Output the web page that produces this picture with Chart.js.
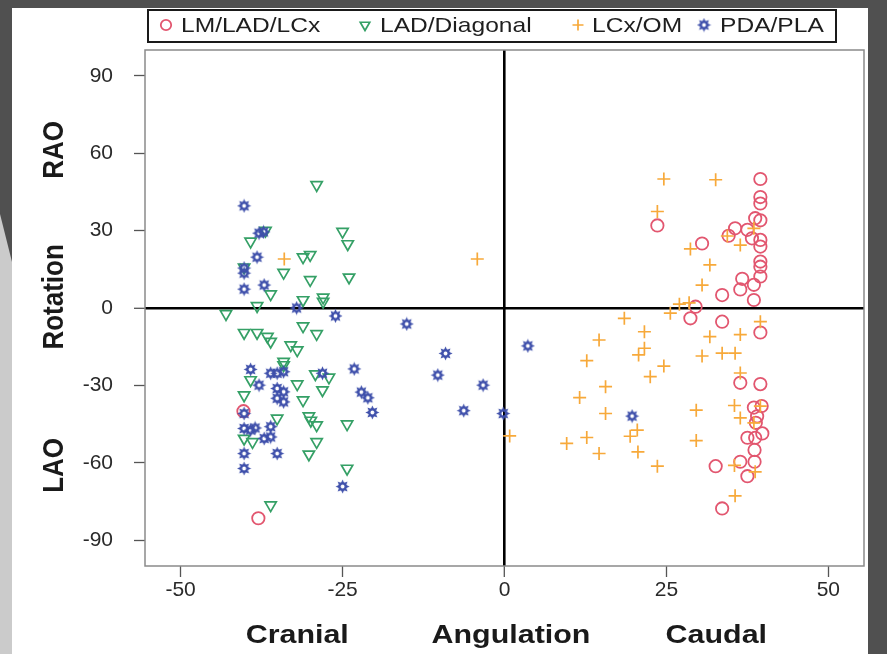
<!DOCTYPE html>
<html>
<head>
<meta charset="utf-8">
<script src="https://cdn.jsdelivr.net/npm/chart.js@4.4.1/dist/chart.umd.min.js"></script>
<style>
  html, body { margin: 0; padding: 0; }
  body { width: 887px; height: 654px; background: #505050; position: relative; overflow: hidden; }
  #paper { position: absolute; left: 12px; top: 8px; width: 856px; height: 646px; background: #fff; }
  #strip { position: absolute; left: 0; top: 0; width: 12px; height: 654px; background: #cbcbcb;
           clip-path: polygon(0 214px, 12px 262px, 12px 654px, 0 654px); }
  #wrap { position: absolute; left: 0; top: 0; width: 887px; height: 654px; }
</style>
</head>
<body>
<div id="paper"></div>
<div id="strip"></div>
<div id="wrap"><canvas id="myChart"></canvas></div>
<script>
// du lieu doc tu hinh: [angulation, rotation]
var lmLadLcx = [
  [-40.3, -40], [-38, -81.5], [23.6, 32], [30.5, 25], [34.6, 28], [35.6, 30.9], [37.5, 30.3],
  [38.2, 27], [38.7, 34.8], [39.5, 50], [39.5, 43], [39.5, 40.5], [39.5, 34], [39.5, 26.4],
  [39.5, 23.8], [39.5, 18], [39.5, 16], [39.5, 12.2], [38.5, 9], [36.7, 11.3], [36.4, 7.2],
  [38.5, 3.1], [33.6, 5], [29.5, 0.5], [28.7, -4], [33.6, -5.3], [39.5, -9.5], [36.4, -29],
  [39.5, -29.5], [38.5, -38.6], [39.7, -38], [39, -42], [38.8, -44.5], [39.8, -48.6],
  [37.5, -50.3], [38.7, -50.3], [38.6, -55], [36.4, -59.6], [38.6, -59.6], [32.6, -61.3],
  [37.5, -65.2], [33.6, -77.7]
];
var ladDiagonal = [
  [-29, 47.7], [-25, 29.6], [-24.2, 24.8], [-36.9, 30], [-39.2, 25.8], [-31.1, 19.7], [-30, 20.6],
  [-34.1, 13.7], [-24, 11.9], [-30, 10.9], [-40.2, 15.8], [-36.1, 5.4], [-31.1, 3.1], [-28, 4.1],
  [-28, 2.5], [-38.2, 0.8], [-43, -2.3], [-40.2, -9.6], [-38.2, -9.6], [-36.6, -11.1], [-36.1, -13],
  [-31.1, -7], [-29, -10], [-33, -14.4], [-32, -16.3], [-34.1, -20.8], [-34.1, -22.1], [-29.2, -25.6],
  [-27.1, -26.9], [-39.2, -27.9], [-32, -29.5], [-28.1, -31.8], [-40.2, -33.8], [-31.1, -35.7],
  [-35.1, -42.8], [-30.2, -41.9], [-29.9, -43.6], [-29, -45.4], [-24.3, -45], [-40.2, -50.6],
  [-38.9, -51.9], [-29, -51.9], [-30.2, -56.7], [-24.3, -62.2], [-36.1, -76.4]
];
var lcxOm = [
  [-34, 19], [-4.2, 19], [0.8, -49.6], [24.6, 50], [32.6, 49.7], [23.6, 37.4], [28.7, 22.9],
  [31.7, 16.7], [30.5, 8.9], [27, 1.5], [28.5, 2], [25.6, -2], [18.5, -4], [21.6, -9.2],
  [14.6, -12.4], [21.6, -15.6], [20.7, -18.2], [12.7, -20.4], [24.6, -22.5], [22.5, -26.6],
  [15.6, -30.5], [11.6, -34.7], [15.6, -40.9], [20.5, -47.3], [19.4, -49.7], [12.7, -50.2],
  [9.6, -52.5], [14.6, -56.4], [20.6, -55.8], [23.6, -61.3], [36.4, 24.4], [34.4, 27.9],
  [38.5, 30.9], [39.5, -5.3], [31.7, -11.1], [36.4, -10.3], [30.5, -18.6], [33.6, -17.5],
  [35.6, -17.5], [36.4, -25.2], [29.6, -39.6], [35.5, -37.8], [36.4, -42.6], [38.5, -44.5],
  [39.5, -38], [29.6, -51.4], [35.5, -61], [38.7, -63.5], [35.6, -72.8]
];
var pdaPla = [
  [-40.2, 39.6], [-37.9, 29], [-37.2, 29.5], [-38.2, 19.7], [-40.2, 13.5], [-40.2, 15.5],
  [-40.2, 7.3], [-37.1, 8.9], [-32.1, 0], [-26.1, -3.1], [-15.1, -6.2], [-9.1, -17.6],
  [-10.3, -26], [-3.3, -29.9], [-6.3, -39.8], [-0.2, -40.9], [3.6, -14.7], [19.7, -41.9],
  [-39.2, -23.8], [-37.9, -29.9], [-36.1, -25.3], [-35.1, -25.3], [-34.1, -24.7], [-28.1, -25.3],
  [-23.2, -23.6], [-35.1, -31.2], [-34.1, -32.5], [-35.1, -35], [-34.1, -36.4], [-22.1, -32.6],
  [-21.1, -34.8], [-20.4, -40.5], [-40.2, -40.9], [-40.2, -46.7], [-39.2, -47.3], [-38.5, -46.5],
  [-36.1, -46], [-37.1, -50.6], [-36.1, -50], [-40.2, -56.4], [-35.1, -56.4], [-40.2, -62.2],
  [-25, -69.2]
];

var seriesNames = ['LM/LAD/LCx', 'LAD/Diagonal', 'LCx/OM', 'PDA/PLA'];
var xTicks = [-50, -25, 0, 25, 50];
var yTicks = [-90, -60, -30, 0, 30, 60, 90];
var xTitles = ['Cranial', 'Angulation', 'Caudal'];
var yTitles = ['RAO', 'Rotation', 'LAO'];

var colRed = '#e2566f';
var colGreen = '#35a066';
var colOrange = '#f7a93a';
var colBlue = '#3f50ab';

// chu trong hinh goc bi keo gian theo chieu ngang
var stretch = 1.17;

// ky hieu hinh mat troi cho PDA/PLA
function makeSun(color) {
    var c = document.createElement('canvas');
    c.width = 15; c.height = 15;
    var g = c.getContext('2d');
    g.translate(7.5, 7.5);
    g.fillStyle = color;
    for (var i = 0; i < 8; i++) {
        g.save();
        g.rotate(i * Math.PI / 4);
        g.beginPath();
        g.moveTo(-1.7, -3.2);
        g.lineTo(0, -7);
        g.lineTo(1.7, -3.2);
        g.closePath();
        g.fill();
        g.restore();
    }
    g.beginPath();
    g.arc(0, 0, 4.2, 0, Math.PI * 2);
    g.fill();
    g.globalCompositeOperation = 'destination-out';
    g.beginPath();
    g.arc(0, 0, 1.9, 0, Math.PI * 2);
    g.fill();
    return c;
}
var sun = makeSun(colBlue);

function toXY(arr) {
    return arr.map(function (p) { return { x: p[0], y: p[1] }; });
}

var markers = [
    { pointStyle: 'circle', radius: 6.2, rotation: 0, borderWidth: 1.8, borderColor: colRed },
    { pointStyle: 'triangle', radius: 6.5, rotation: 180, borderWidth: 1.7, borderColor: colGreen },
    { pointStyle: 'cross', radius: 6.5, rotation: 0, borderWidth: 1.7, borderColor: colOrange },
    { pointStyle: sun, radius: 7, rotation: 0, borderWidth: 1, borderColor: colBlue }
];
var allData = [lmLadLcx, ladDiagonal, lcxOm, pdaPla];

var datasets = allData.map(function (d, i) {
    var m = markers[i];
    return {
        label: seriesNames[i],
        data: toXY(d),
        pointStyle: m.pointStyle,
        pointRadius: m.radius,
        pointRotation: m.rotation,
        pointBorderWidth: m.borderWidth,
        pointBorderColor: m.borderColor,
        pointBackgroundColor: 'rgba(0,0,0,0)',
        showLine: false,
        order: 3 - i
    };
});

function wideText(ctx, text, x, y) {
    ctx.save();
    ctx.translate(x, y);
    ctx.scale(stretch, 1);
    ctx.fillText(text, 0, 0);
    ctx.restore();
}

// khung, chu thich va tieu de truc
var decor = {
    id: 'decor',
    afterDraw: function (chart) {
        var ctx = chart.ctx;
        var a = chart.chartArea;
        var xs = chart.scales.x, ys = chart.scales.y;
        ctx.save();
        ctx.strokeStyle = '#8a8a8a';
        ctx.lineWidth = 1.5;
        ctx.strokeRect(a.left, a.top, a.right - a.left, a.bottom - a.top);

        // legend co khung
        ctx.strokeStyle = '#1a1a1a';
        ctx.lineWidth = 2;
        ctx.strokeRect(148, 10, 688, 32);
        var symX = [166, 365, 578, 704];
        var txtX = [181, 380, 592, 720];
        ctx.font = '21px "Liberation Sans", Arial, sans-serif';
        ctx.textBaseline = 'middle';
        ctx.textAlign = 'left';
        for (var i = 0; i < 4; i++) {
            var m = markers[i];
            ctx.strokeStyle = m.borderColor;
            ctx.lineWidth = m.borderWidth;
            ctx.fillStyle = 'rgba(0,0,0,0)';
            Chart.helpers.drawPoint(ctx, {
                pointStyle: m.pointStyle, radius: m.radius - 1, rotation: m.rotation, borderWidth: m.borderWidth
            }, symX[i], 25);
            ctx.fillStyle = '#1e1e1e';
            wideText(ctx, seriesNames[i], txtX[i], 26);
        }

        // tieu de truc
        ctx.font = 'bold 26px "Liberation Sans", Arial, sans-serif';
        ctx.fillStyle = '#1a1a1a';
        ctx.textAlign = 'center';
        var tx = [-32, 1, 32.7];
        for (var j = 0; j < 3; j++) {
            wideText(ctx, xTitles[j], xs.getPixelForValue(tx[j]), a.bottom + 70);
        }
        var ty = [61.3, 4.3, -61];
        for (var k = 0; k < 3; k++) {
            ctx.save();
            ctx.translate(a.left - 90, ys.getPixelForValue(ty[k]));
            ctx.scale(stretch, 1);
            ctx.rotate(-Math.PI / 2);
            ctx.fillText(yTitles[k], 0, 0);
            ctx.restore();
        }
        ctx.restore();
    }
};

function zeroColor(c) { return c.tick && c.tick.value === 0 ? '#000' : 'rgba(0,0,0,0)'; }
function zeroWidth(c) { return c.tick && c.tick.value === 0 ? 2.6 : 1; }

Chart.defaults.font.family = '"Liberation Sans", Arial, sans-serif';

var chart = new Chart('myChart', {
    type: 'scatter',
    data: { datasets: datasets },
    options: {
        responsive: true,
        maintainAspectRatio: false,
        animation: false,
        layout: { padding: { left: 12, right: 23, top: 50, bottom: 48 } },
        plugins: { legend: { display: false }, tooltip: { enabled: false } },
        scales: {
            x: {
                type: 'linear', min: -55.5, max: 55.5,
                afterBuildTicks: function (s) { s.ticks = xTicks.map(function (v) { return { value: v }; }); },
                afterFit: function (s) { s.height = 40; },
                border: { display: false },
                grid: { color: zeroColor, lineWidth: zeroWidth, tickColor: '#555', tickWidth: 1.3, tickLength: 11 },
                ticks: { color: '#2a2a2a', font: { size: 21 }, padding: 1, maxRotation: 0 }
            },
            y: {
                type: 'linear', min: -100, max: 100,
                afterBuildTicks: function (s) { s.ticks = yTicks.map(function (v) { return { value: v }; }); },
                afterFit: function (s) { s.width = 133; },
                border: { display: false },
                grid: { color: zeroColor, lineWidth: zeroWidth, tickColor: '#555', tickWidth: 1.3, tickLength: 11 },
                ticks: { color: '#2a2a2a', font: { size: 21 }, padding: 21 }
            }
        }
    },
    plugins: [decor]
});
</script>
</body>
</html>
